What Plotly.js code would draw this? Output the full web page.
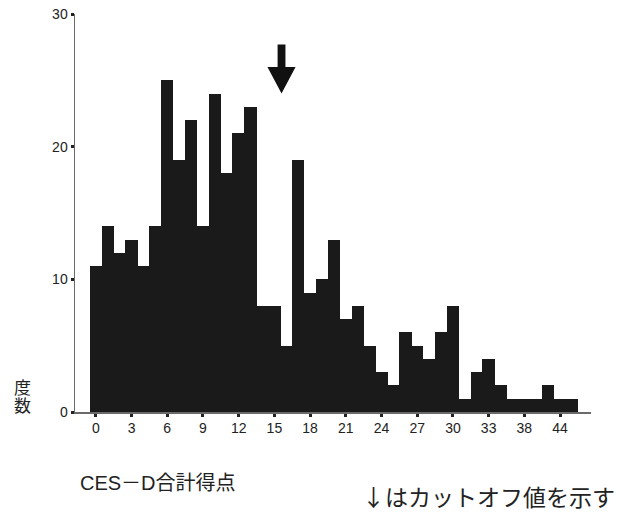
<!DOCTYPE html>
<html>
<head>
<meta charset="utf-8">
<script src="https://cdn.plot.ly/plotly-3.0.1.min.js"></script>
<style>
  html, body { margin: 0; padding: 0; background: #fff; }
  #chart { width: 627px; height: 512px; }
</style>
</head>
<body>
<div id="chart"></div>
<script>
// CES-D total score (one bar per score point) and number of respondents
const scores = [0,1,2,3,4,5,6,7,8,9,10,11,12,13,14,15,16,17,18,19,20,
                21,22,23,24,25,26,27,28,29,30,31,32,33,34,35,36,37,38,39,40];
const counts = [11,14,12,13,11,14,25,19,22,14,24,18,21,23,8,8,5,19,9,10,13,
                7,8,5,3,2,6,5,4,6,8,1,3,4,2,1,1,1,2,1,1];

// x-axis tick positions and their printed labels
const xTickVals = [0,3,6,9,12,15,18,21,24,27,30,33,36,39];
const xTickText = ["0","3","6","9","12","15","18","21","24","27","30","33","38","44"];
const yTickVals = [0,10,20,30];

// cut-off marker position on the score axis
const cutoffX = 15.6;

const W = 627, H = 512;
const margin = {l: 75, r: 36, t: 14, b: 100};
const plotW = W - margin.l - margin.r;
const plotH = H - margin.t - margin.b;
const px = x => (x - margin.l) / plotW;          // pixel -> paper x
const py = y => (H - margin.b - y) / plotH;      // pixel -> paper y

const barColor = '#1a1a1a';
const axisColor = '#6a6a6a';
const xTickFont = {family: 'Liberation Sans Narrow, Liberation Sans, Arial, sans-serif', size: 14, color: '#222'};
const yTickFont = {family: 'Liberation Sans, Arial, sans-serif', size: 14, color: '#222'};
const jpFont = 'Noto Sans CJK JP, sans-serif';
const mixedFont = 'Liberation Sans, Noto Sans CJK JP, sans-serif';

// downward arrow marking the cut-off score
const a = cutoffX;
const arrowPath = [
  `M ${a-0.33} 27.7`, `L ${a+0.33} 27.7`, `L ${a+0.33} 26.0`,
  `L ${a+1.18} 26.0`, `L ${a} 24.0`, `L ${a-1.18} 26.0`,
  `L ${a-0.33} 26.0`, 'Z'
].join(' ');

const trace = {
  type: 'bar',
  x: scores,
  y: counts,
  width: 1.04,
  marker: {color: barColor, line: {width: 0}},
  hoverinfo: 'x+y'
};

const label = (text, x, y, anchor, size, family) => ({
  text: text, xref: 'paper', yref: 'paper',
  x: px(x), y: py(y), xanchor: anchor, yanchor: 'middle',
  showarrow: false,
  font: {family: family, size: size, color: '#222'}
});

const layout = {
  width: W, height: H,
  margin: margin,
  paper_bgcolor: '#fff',
  plot_bgcolor: '#fff',
  showlegend: false,
  bargap: 0,
  xaxis: {
    range: [-1.75, 41.6],
    tickvals: xTickVals,
    ticktext: xTickText,
    tickfont: xTickFont,
    ticks: 'outside', ticklen: 3, tickwidth: 3, tickcolor: '#222',
    showline: true, linecolor: axisColor, linewidth: 1.5,
    showgrid: false, zeroline: false
  },
  yaxis: {
    range: [0, 30],
    tickvals: yTickVals,
    tickfont: yTickFont,
    ticks: 'outside', ticklen: 3, tickwidth: 3, tickcolor: '#222',
    showline: true, linecolor: axisColor, linewidth: 1.5,
    showgrid: false, zeroline: false
  },
  shapes: [{
    type: 'path', xref: 'x', yref: 'y',
    path: arrowPath,
    fillcolor: '#111', line: {color: '#111', width: 0}
  }],
  annotations: [
    // vertical y-axis caption, one character per line
    label('度', 22, 386, 'center', 17, jpFont),
    label('数', 22, 404, 'center', 17, jpFont),
    label('CES－D合計得点', 78, 483, 'left', 20, mixedFont),
    label('↓はカットオフ値を示す', 617, 496, 'right', 23, jpFont)
  ]
};

Plotly.newPlot('chart', [trace], layout, {displayModeBar: false, staticPlot: true});
</script>
</body>
</html>
